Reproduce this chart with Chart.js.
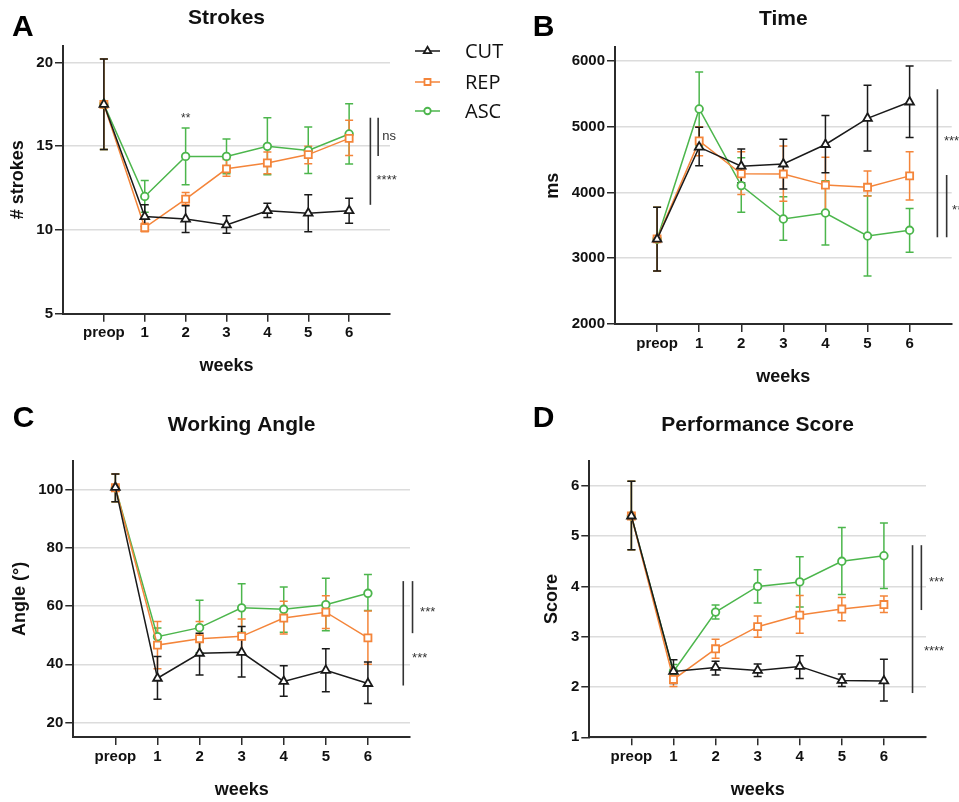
<!DOCTYPE html>
<html><head><meta charset="utf-8">
<script src="https://cdn.jsdelivr.net/npm/chart.js@4.4.1/dist/chart.umd.min.js"></script>
<style>
html,body{margin:0;padding:0;background:#fff;}
body{width:959px;height:802px;position:relative;overflow:hidden;}
canvas{position:absolute;}
</style></head><body>
<canvas id="cA" width="520" height="400" style="left:0;top:0"></canvas>
<canvas id="cB" width="479" height="400" style="left:480px;top:0"></canvas>
<canvas id="cC" width="480" height="402" style="left:0;top:400px"></canvas>
<canvas id="cD" width="479" height="402" style="left:480px;top:400px"></canvas>
<script>
// ---------- data ----------
const categories = ['preop','1','2','3','4','5','6'];
const groups = ['CUT','REP','ASC'];

// A: Strokes
const strokesTicks = [5,10,15,20];
const strokesCUT   = [17.5,10.8,10.65,10.3,11.15,11.0,11.15];
const strokesCUTlo = [14.8,10.2,9.85,9.8,10.75,9.9,10.4];
const strokesCUThi = [20.2,11.5,11.45,10.85,11.6,12.1,11.9];
const strokesREP   = [17.5,10.14,11.84,13.65,14.0,14.5,15.47];
const strokesREPlo = [14.8,9.9,11.5,13.2,13.35,13.95,14.45];
const strokesREPhi = [20.2,10.4,12.23,14.2,14.65,15.0,16.55];
const strokesASC   = [17.5,12.0,14.39,14.39,14.99,14.75,15.73];
const strokesASClo = [14.8,11.05,12.7,13.35,13.3,13.37,13.93];
const strokesASChi = [20.2,12.95,16.09,15.43,16.7,16.15,17.53];

// B: Time (ms)
const timeTicks = [2000,3000,4000,5000,6000];
const timeCUT   = [3290,4690,4400,4433,4730,5128,5376];
const timeCUTlo = [2806,4408,4150,4053,4300,4631,4838];
const timeCUThi = [3774,4992,4660,4809,5169,5630,5924];
const timeREP   = [3295,4785,4285,4281,4112,4079,4253];
const timeREPlo = [2806,4560,3970,3866,3700,3947,3886];
const timeREPhi = [3774,5000,4620,4707,4535,4327,4620];
const timeASC   = [3290,5270,4105,3597,3688,3338,3425];
const timeASClo = [2806,4710,3700,3272,3202,2730,3090];
const timeASChi = [3774,5833,4530,3937,4180,3950,3756];

// C: Working Angle
const angleTicks = [20,40,60,80,100];
const angleCUT   = [100.8,35.2,43.8,44.1,34.1,37.9,33.4];
const angleCUTlo = [95.9,28.0,36.3,35.6,29.0,30.6,26.5];
const angleCUThi = [105.4,42.7,50.7,53.0,39.5,45.3,40.8];
const angleREP   = [100.7,46.6,48.8,49.6,55.9,57.9,49.1];
const angleREPlo = [95.9,38.5,43.2,43.8,50.4,52.3,40.0];
const angleREPhi = [105.4,54.7,54.7,55.6,61.7,63.6,58.3];
const angleASC   = [100.7,49.5,52.6,59.4,58.9,60.5,64.4];
const angleASClo = [95.9,46.3,44.0,51.0,51.0,51.5,58.5];
const angleASChi = [105.4,52.5,62.0,67.7,66.6,69.6,70.9];

// D: Performance Score
const scoreTicks = [1,2,3,4,5,6];
const scoreCUT   = [5.40,2.31,2.39,2.33,2.41,2.13,2.12];
const scoreCUTlo = [4.73,2.07,2.24,2.21,2.17,2.01,1.72];
const scoreCUThi = [6.09,2.54,2.51,2.46,2.62,2.26,2.55];
const scoreREP   = [5.40,2.15,2.76,3.20,3.43,3.55,3.64];
const scoreREPlo = [4.73,2.01,2.57,2.99,3.07,3.32,3.48];
const scoreREPhi = [6.09,2.28,2.95,3.41,3.82,3.78,3.81];
const scoreASC   = [5.40,2.31,3.49,4.00,4.09,4.50,4.61];
const scoreASClo = [4.73,2.10,3.35,3.67,3.59,3.84,3.96];
const scoreASChi = [6.09,2.45,3.63,4.33,4.59,5.17,5.26];

// ---------- styling ----------
const FONT = "'Liberation Sans', Arial, Helvetica, sans-serif";
const LEGFONT = "'Open Sans', 'Noto Sans', sans-serif";
const colors = ['#1a1a1a','#F4853A','#4CB64C'];
const styles = ['triangle','rect','circle'];
const radii = [5,5,3.8];
const AXIS = '#2b2b2b';
const GRID = '#dcdcdc';

const errorBars = {
  id:'errorBars',
  beforeDatasetsDraw(chart){
    const {ctx} = chart; const x = chart.scales.x, y = chart.scales.y;
    const ds = chart.data.datasets;
    ctx.save();
    ctx.lineWidth = 1.5;
    for (let d = ds.length-1; d >= 0; d--){
      const set = ds[d];
      ctx.strokeStyle = set.borderColor;
      set.lo.forEach((lo,i)=>{
        const px = x.getPixelForValue(i);
        const pl = y.getPixelForValue(lo), ph = y.getPixelForValue(set.hi[i]);
        ctx.beginPath();
        ctx.moveTo(px,pl); ctx.lineTo(px,ph);
        ctx.moveTo(px-4,pl); ctx.lineTo(px+4,pl);
        ctx.moveTo(px-4,ph); ctx.lineTo(px+4,ph);
        ctx.stroke();
      });
    }
    ctx.restore();
  }
};

function makeDeco(cfg){
  return {
    id:'deco',
    afterDraw(chart){
      const {ctx} = chart; const x = chart.scales.x, y = chart.scales.y;
      ctx.save();
      // panel letter
      ctx.fillStyle = '#000';
      ctx.font = 'bold 30px ' + FONT;
      ctx.textAlign = 'left'; ctx.textBaseline = 'alphabetic';
      ctx.fillText(cfg.letter[0], cfg.letter[1], cfg.letter[2]);
      // significance brackets
      ctx.strokeStyle = '#333'; ctx.lineWidth = 1.6;
      cfg.sigLines.forEach(l=>{
        const px = x.getPixelForValue(l[0]);
        ctx.beginPath();
        ctx.moveTo(px, y.getPixelForValue(l[1]));
        ctx.lineTo(px, y.getPixelForValue(l[2]));
        ctx.stroke();
      });
      ctx.fillStyle = '#333';
      cfg.sigTexts.forEach(t=>{
        const size = t[3];
        ctx.font = size + 'px ' + FONT;
        ctx.textAlign = t[4] || 'left';
        const isStar = t[0].indexOf('*') >= 0;
        const dy = isStar ? 0.57*size : 0.27*size;
        ctx.fillText(t[0], x.getPixelForValue(t[1]), y.getPixelForValue(t[2]) + dy);
      });
      // legend
      if (cfg.legend){
        const L = cfg.legend;
        chart.data.datasets.forEach((ds,k)=>{
          const ly = L.ys[k];
          ctx.strokeStyle = ds.borderColor; ctx.lineWidth = 1.5;
          ctx.beginPath(); ctx.moveTo(L.x0, ly); ctx.lineTo(L.x1, ly); ctx.stroke();
          ctx.fillStyle = '#fff'; ctx.lineWidth = 1.8;
          Chart.helpers.drawPoint(ctx, {pointStyle: ds.pointStyle, radius: ds.pointRadius*0.85, borderWidth:1.8, rotation:0}, (L.x0+L.x1)/2, ly);
          ctx.fillStyle = '#111';
          ctx.font = '20px ' + LEGFONT;
          ctx.textAlign = 'left'; ctx.textBaseline = 'middle';
          ctx.fillText(ds.label, L.tx, ly+1);
          ctx.textBaseline = 'alphabetic';
        });
      }
      ctx.restore();
    }
  };
}

function makePanel(id, cfg){
  const datasets = cfg.series.map((s,k)=>({
    label: groups[k],
    data: s[0].map((v,i)=>({x:i, y:v})),
    lo: s[1], hi: s[2],
    borderColor: colors[k], backgroundColor: colors[k],
    borderWidth: 1.5,
    pointStyle: styles[k], pointRadius: radii[k], pointHoverRadius: radii[k],
    pointBorderWidth: 1.8,
    pointBackgroundColor: '#fff', pointBorderColor: colors[k],
    tension: 0, clip: false
  }));
  const tickFont = {family:FONT, size:15, weight:'bold'};
  const titleFont = {family:FONT, size:18, weight:'bold'};
  new Chart(document.getElementById(id), {
    type:'line',
    data:{datasets},
    options:{
      responsive:false, animation:false, devicePixelRatio:1,
      layout:{padding:{left:0, top:0, bottom:0, right:cfg.padRight}},
      plugins:{
        legend:{display:false}, tooltip:{enabled:false},
        title:{display:true, text:cfg.title, fullSize:false, color:'#111',
          font:{family:FONT, size:21, weight:'bold', lineHeight:1.2},
          padding:{top:cfg.titlePad[0], bottom:cfg.titlePad[1]}}
      },
      scales:{
        x:{type:'linear', min:-1, max:7,
          afterBuildTicks: s=>{ s.ticks = categories.map((c,i)=>({value:i})); },
          afterFit: s=>{ s.height = cfg.xH; },
          ticks:{callback:(v)=>categories[v], font:tickFont, color:'#111', padding:cfg.xTickPad, maxRotation:0, autoSkip:false},
          grid:{drawOnChartArea:false, drawTicks:true, tickLength:8, color:AXIS, lineWidth:1.5},
          border:{display:true, color:AXIS, width:2},
          title:{display:true, text:'weeks', font:titleFont, color:'#111', padding:{top:0, bottom:cfg.xTitlePad}}
        },
        y:{type:'linear', min:cfg.yMin, max:cfg.yMax,
          afterBuildTicks: s=>{ s.ticks = cfg.yTicks.map(v=>({value:v})); },
          afterFit: s=>{ s.width = cfg.yW; },
          ticks:{callback:(v)=>String(v), font:tickFont, color:'#111', padding:2},
          grid:{color:GRID, lineWidth:1.5, tickColor:AXIS, tickWidth:1.5, tickLength:8, drawTicks:true},
          border:{display:true, color:AXIS, width:2},
          title:{display:true, text:cfg.yTitle, font:titleFont, color:'#111', padding:{top:cfg.yTitlePad, bottom:0}}
        }
      }
    },
    plugins:[errorBars, makeDeco(cfg)]
  });
}

makePanel('cA', {
  title:'Strokes', yTitle:'# strokes', yMin:5, yMax:21, yTicks:strokesTicks,
  series:[[strokesCUT,strokesCUTlo,strokesCUThi],[strokesREP,strokesREPlo,strokesREPhi],[strokesASC,strokesASClo,strokesASChi]],
  padRight:130, titlePad:[5.7,14.8], yW:63, yTitlePad:7.5, xH:86.3, xTitlePad:23.5, xTickPad:2,
  letter:['A',12,36],
  sigLines:[[6.52,16.7,11.5],[6.71,16.7,14.41]],
  sigTexts:[['ns',6.81,15.57,13],['****',6.67,13.17,13],['**',2,16.84,12,'center']],
  legend:{x0:415, x1:440, tx:465, ys:[51,82,111]}
});
makePanel('cB', {
  title:'Time', yTitle:'ms', yMin:2000, yMax:6208, yTicks:timeTicks,
  series:[[timeCUT,timeCUTlo,timeCUThi],[timeREP,timeREPlo,timeREPhi],[timeASC,timeASClo,timeASChi]],
  padRight:7.3, titlePad:[6.7,15.4], yW:135, yTitlePad:61.9, xH:76, xTitlePad:11.9, xTickPad:2.9,
  letter:['B',52.7,36],
  sigLines:[[6.66,5570,3319],[6.88,4266,3319]],
  sigTexts:[['***',6.815,4840,13],['**',7.01,3784,13]]
});
makePanel('cC', {
  title:'Working Angle', yTitle:'Angle (°)', yMin:15, yMax:110, yTicks:angleTicks,
  series:[[angleCUT,angleCUTlo,angleCUThi],[angleREP,angleREPlo,angleREPhi],[angleASC,angleASClo,angleASChi]],
  padRight:70, titlePad:[12.4,23.1], yW:73.3, yTitlePad:9.2, xH:65, xTitlePad:1.2, xTickPad:2.6,
  letter:['C',12.7,27.3],
  sigLines:[[6.84,68.6,32.7],[7.06,68.6,50.7]],
  sigTexts:[['***',7.24,59.3,13],['***',7.05,43.2,13]]
});
makePanel('cD', {
  title:'Performance Score', yTitle:'Score', yMin:1, yMax:6.5, yTicks:scoreTicks,
  series:[[scoreCUT,scoreCUTlo,scoreCUThi],[scoreREP,scoreREPlo,scoreREPhi],[scoreASC,scoreASClo,scoreASChi]],
  padRight:33, titlePad:[12.4,23.1], yW:109.3, yTitlePad:60.9, xH:64.7, xTitlePad:1.2, xTickPad:3,
  letter:['D',52.7,26.7],
  sigLines:[[6.68,4.82,1.88],[6.89,4.82,3.53]],
  sigTexts:[['***',7.07,4.16,13],['****',6.95,2.78,13]]
});
</script>
</body></html>
